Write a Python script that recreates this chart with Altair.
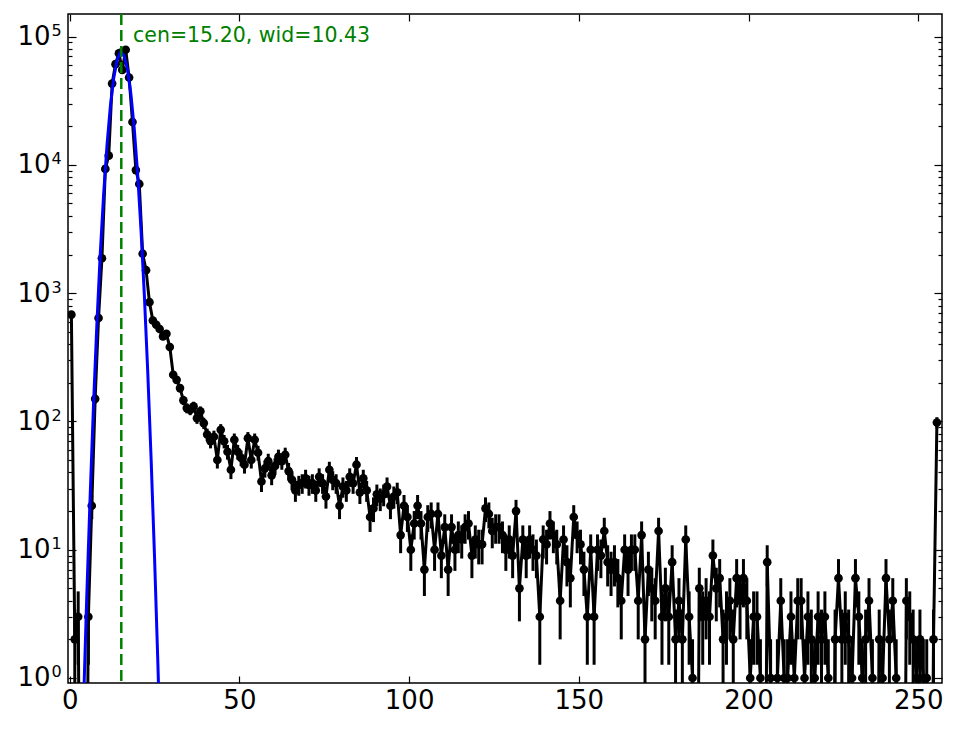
import math
import altair as alt
import pandas as pd

# ---- data ----
counts = [
    680, 2, 3, 0, 0, 3, 22, 150, 640, 1870,
    9300, 11800, 43000, 61000, 74000, 55000, 79000, 48000, 21600, 9100,
    7100, 2030, 1510, 850, 612, 567, 525, 460, 482, 380,
    231, 211, 182, 146, 127, 123, 131, 106, 120, 97,
    79, 70, 76, 50, 86, 70, 58, 42, 72, 58,
    52, 46, 74, 50, 72, 57, 34, 43, 49, 38,
    45, 53, 49, 55, 41, 35, 29, 32, 33, 36,
    32, 33, 29, 37, 33, 26, 42, 35, 33, 22,
    31, 29, 37, 33, 46, 28, 36, 29, 18, 21,
    27, 25, 27, 31, 22, 26, 28, 13, 22, 18,
    10, 16, 22, 16, 7, 18, 19, 10, 19, 9,
    15, 7, 15, 10, 13, 12, 15, 16, 9, 12,
    11, 11, 21, 19, 14, 15, 15, 13, 10, 12,
    9, 20, 5, 12, 9, 12, 10, 9, 3, 12,
    11, 16, 13, 11, 4, 12, 8, 6, 18, 13,
    11, 7, 3, 10, 3, 10, 9, 14, 8, 7,
    8, 6, 4, 10, 7, 10, 10, 4, 13, 2,
    7, 5, 4, 14, 3, 5, 3, 8, 2, 4,
    2, 12, 3, 1, 0, 5, 3, 4, 3, 9,
    5, 6, 2, 3, 4, 2, 6, 4, 6, 4,
    1, 3, 3, 1, 0, 8, 1, 0, 1, 4,
    1, 1, 3, 1, 4, 4, 1, 3, 2, 1,
    3, 2, 3, 1, 0, 2, 6, 2, 3, 2,
    1, 6, 3, 1, 2, 4, 1, 0, 2, 1,
    6, 2, 4, 1, 0, 0, 4, 3, 2, 1,
    2, 1, 1, 0, 2, 98,
]
bin_centers = [i + 0.5 for i in range(len(counts))]

# fitted curve (blue)
fit_x = list(range(3, 28))
fit_y = [0.059, 0.54, 4.1, 25, 131, 566, 2015, 5900, 14350, 28900, 48100,
         66300, 75700, 71500, 55900, 36200, 19400, 8620, 3160, 960, 242,
         50, 8.7, 1.25, 0.147]

CEN = 15.20
WID = 10.43

x_ticks = [0, 50, 100, 150, 200, 250]
y_major = [1, 10, 100, 1000, 10000, 100000]
y_minor = [m * 10 ** k for k in range(5) for m in range(2, 10)]
y_all = sorted(y_major + y_minor)

# ---- tables ----
FLOOR = 1e-3  # non-positive values are clipped below the axis, like matplotlib
df = pd.DataFrame({"x": bin_centers, "n": counts})
df["y"] = df["n"].apply(lambda v: max(v, FLOOR))
df["lo"] = df["n"].apply(lambda v: max(v - math.sqrt(v), FLOOR))
df["hi"] = df["n"].apply(lambda v: max(v + math.sqrt(v), FLOOR))
fit = pd.DataFrame({"x": fit_x, "y": fit_y})
cen_df = pd.DataFrame({"x": [CEN]})
txt_df = pd.DataFrame({"label": [f"cen={CEN:.2f}, wid={WID:.2f}"]})

W, H = 874, 669
FONT = "DejaVu Sans"

xs = alt.Scale(domain=[-0.5, 257], nice=False, zero=False)
ys = alt.Scale(type="log", domain=[0.914, 1.5e5], nice=False)

major_test = "indexof([1,10,100,1000,10000,100000], datum.value) >= 0"
ytick_size = {"condition": {"test": major_test, "value": 8}, "value": 4}

x_label_axis = alt.Axis(orient="bottom", values=x_ticks, ticks=False, domain=False,
                        grid=False, labelFont=FONT, labelFontSize=26, labelColor="black",
                        labelPadding=4, labelFlush=False, labelOverlap=False, title=None)
# "10" part of the y labels
y_label_axis = alt.Axis(orient="left", values=y_major, ticks=False, domain=False,
                        grid=False, labelFont=FONT, labelFontSize=26, labelColor="black",
                        labelPadding=18, labelFlush=False, labelOverlap=False, title=None,
                        labelExpr="'10'")
# exponent part of the y labels
y_exp_axis = alt.Axis(orient="left", values=y_major, ticks=False, domain=False,
                      grid=False, labelFont=FONT, labelFontSize=16, labelColor="black",
                      labelAlign="left", labelPadding=17, labelOffset=-6,
                      labelFlush=False, labelOverlap=False, title=None,
                      labelExpr="format(round(log(datum.value)/LN10), 'd')")
x_tick_bottom = alt.Axis(orient="top", offset=-H, values=x_ticks, labels=False, domain=False,
                         grid=False, tickSize=7, tickColor="black", tickWidth=1.2, title=None)
x_tick_top = alt.Axis(orient="bottom", offset=-H, values=x_ticks, labels=False, domain=False,
                      grid=False, tickSize=7, tickColor="black", tickWidth=1.2, title=None)
y_tick_left = alt.Axis(orient="right", offset=-W, values=y_all, labels=False, domain=False,
                       grid=False, tickSize=ytick_size, tickColor="black", tickWidth=1.2,
                       title=None)
y_tick_right = alt.Axis(orient="left", offset=-W, values=y_all, labels=False, domain=False,
                        grid=False, tickSize=ytick_size, tickColor="black", tickWidth=1.2,
                        title=None)

base = alt.Chart(df)

errbars = base.mark_rule(color="black", strokeWidth=3, clip=True).encode(
    x=alt.X("x:Q", scale=xs, axis=x_label_axis),
    y=alt.Y("lo:Q", scale=ys, axis=y_label_axis),
    y2="hi:Q",
)
line = base.mark_line(color="black", strokeWidth=3, clip=True).encode(
    x=alt.X("x:Q", scale=xs, axis=x_tick_bottom),
    y=alt.Y("y:Q", scale=ys, axis=y_tick_left),
)
points = base.mark_circle(color="black", size=75, opacity=1, clip=True).encode(
    x=alt.X("x:Q", scale=xs, axis=x_tick_top),
    y=alt.Y("y:Q", scale=ys, axis=y_tick_right),
)
fitline = alt.Chart(fit).mark_line(color="#0000ff", strokeWidth=3, clip=True).encode(
    x=alt.X("x:Q", scale=xs, axis=None),
    y=alt.Y("y:Q", scale=ys, axis=y_exp_axis),
)
vline = alt.Chart(cen_df).mark_rule(color="#008000", strokeWidth=2.5,
                                    strokeDash=[11, 5]).encode(
    x=alt.X("x:Q", scale=xs, axis=None),
)
label = alt.Chart(txt_df).mark_text(align="left", baseline="alphabetic", font=FONT,
                                    fontSize=20.5, color="#008000").encode(
    x=alt.value(65), y=alt.value(28), text="label:N",
)

chart = alt.layer(errbars, line, points, fitline, vline, label).resolve_axis(
    x="independent", y="independent"
).properties(
    width=W, height=H,
    autosize=alt.AutoSizeParams(type="none"),
    padding={"left": 60, "top": 6, "right": 10, "bottom": 34},
    background="white",
).configure_view(stroke="black", strokeWidth=1.5)

chart.save("out.html", embed_options={"renderer": "svg", "actions": False})
